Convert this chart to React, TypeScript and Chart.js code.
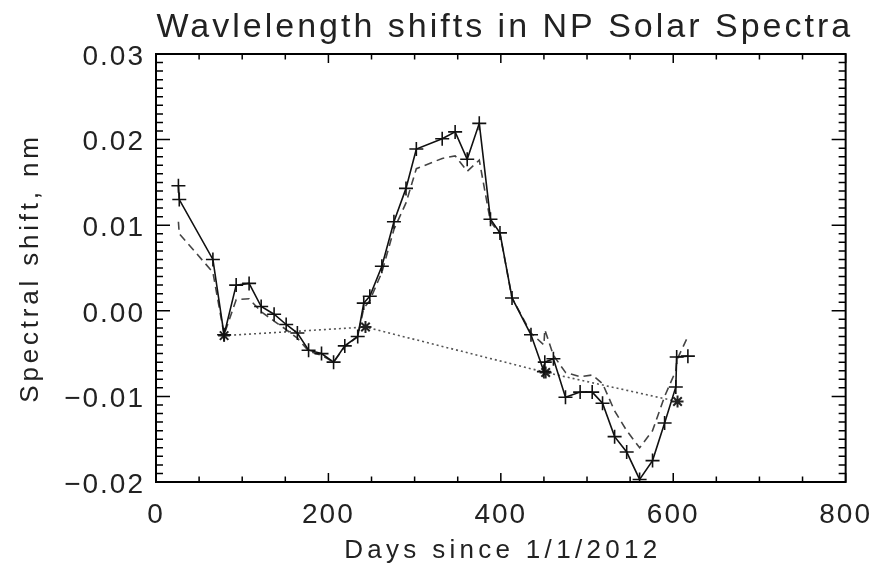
import React, { useEffect, useRef } from "react";
import { Chart, registerables } from "chart.js";

Chart.register(...registerables);

// Days since 1/1/2012
const days = [26, 27, 66, 79, 93, 108, 122, 137, 151, 164, 177, 192, 206, 219, 234, 241, 248, 262, 276, 290, 302, 332, 347, 361, 375, 388, 399, 413, 435, 450, 451, 461, 475, 492, 506, 518, 532, 546, 561, 576, 590, 603, 604, 617];
// Solid line with "+" markers (nm)
const solidShift = [0.0146, 0.0130, 0.0060, -0.0028, 0.0030, 0.0032, 0.0005, -0.0004, -0.0016, -0.0026, -0.0046, -0.0050, -0.0060, -0.0041, -0.0030, 0.0009, 0.0017, 0.0052, 0.0104, 0.0143, 0.0189, 0.0201, 0.0209, 0.0177, 0.0219, 0.0107, 0.0091, 0.0015, -0.0028, -0.0071, -0.0060, -0.0056, -0.0101, -0.0095, -0.0095, -0.0108, -0.0147, -0.0165, -0.0197, -0.0175, -0.0131, -0.0089, -0.0054, -0.0053];
// Dashed line (nm)
const dashedShift = [0.0104, 0.0090, 0.0045, -0.0028, 0.0013, 0.0014, -0.0001, -0.0012, -0.0022, -0.0032, -0.0047, -0.0052, -0.0060, -0.0042, -0.0030, 0.0003, 0.0012, 0.0045, 0.0095, 0.0126, 0.0166, 0.0178, 0.0181, 0.0163, 0.0176, 0.0104, 0.0090, 0.0015, -0.0026, -0.0040, -0.0022, -0.0052, -0.0072, -0.0077, -0.0075, -0.0085, -0.0117, -0.0140, -0.0160, -0.0140, -0.0100, -0.0070, -0.0058, -0.0030];
// Dotted line with "*" markers
const starDays = [79, 243, 452, 605];
const starShift = [-0.0029, -0.0019, -0.0072, -0.0106];

const xMin = 0;
const xMax = 800;
const xStep = 200;
const yMin = -0.02;
const yMax = 0.03;
const yStep = 0.01;

const titleText = "Wavlelength shifts in NP Solar Spectra";
const xTitle = "Days since 1/1/2012";
const yTitle = "Spectral shift, nm";

const FONT = '"Liberation Sans", Arial, Helvetica, sans-serif';
const TEXT = "#222";

const idlPlugin = {
  id: "idlFrame",
  beforeDraw(chart: any) {
    chart.ctx.letterSpacing = "2px";
  },
  afterDraw(chart: any) {
    const { ctx, chartArea: a, scales } = chart;
    const x = scales.x;
    const y = scales.y;
    ctx.save();
    ctx.strokeStyle = "#000";
    ctx.lineWidth = 1.5;
    ctx.beginPath();
    for (let d = xMin; d <= xMax; d += 50) {
      const px = x.getPixelForValue(d);
      const len = d % xStep === 0 ? 9 : 5.5;
      ctx.moveTo(px, a.bottom);
      ctx.lineTo(px, a.bottom - len);
      ctx.moveTo(px, a.top);
      ctx.lineTo(px, a.top + len);
    }
    for (let k = -20; k <= 30; k++) {
      const py = y.getPixelForValue(k / 1000);
      const len = k % 10 === 0 ? 14 : 7;
      ctx.moveTo(a.left, py);
      ctx.lineTo(a.left + len, py);
      ctx.moveTo(a.right, py);
      ctx.lineTo(a.right - len, py);
    }
    ctx.stroke();
    ctx.lineWidth = 2;
    ctx.strokeRect(a.left, a.top, a.right - a.left, a.bottom - a.top);

    ctx.fillStyle = TEXT;
    ctx.textAlign = "center";
    ctx.textBaseline = "alphabetic";
    ctx.font = `34px ${FONT}`;
    ctx.letterSpacing = "3px";
    ctx.fillText(titleText, (a.left + a.right) / 2 + 4, 37);

    ctx.font = `26px ${FONT}`;
    ctx.letterSpacing = "4.3px";
    ctx.fillText(xTitle, (a.left + a.right) / 2 + 2, 558);

    ctx.letterSpacing = "3.8px";
    ctx.translate(38, (a.top + a.bottom) / 2);
    ctx.rotate(-Math.PI / 2);
    ctx.fillText(yTitle, 0, 0);
    ctx.restore();
  },
};

export default function App() {
  const ref = useRef<HTMLCanvasElement | null>(null);

  useEffect(() => {
    if (!ref.current) return;
    const solid = days.map((d, i) => ({ x: d, y: solidShift[i] }));
    const dashed = days.map((d, i) => ({ x: d, y: dashedShift[i] }));
    const stars = starDays.map((d, i) => ({ x: d, y: starShift[i] }));

    const chart = new Chart(ref.current, {
      type: "scatter",
      data: {
        datasets: [
          {
            data: solid,
            showLine: true,
            borderColor: "#111",
            borderWidth: 1.6,
            pointStyle: "cross",
            pointRadius: 7,
            pointBorderWidth: 1.6,
            pointBorderColor: "#111",
            pointBackgroundColor: "#111",
            tension: 0,
          },
          {
            data: dashed,
            showLine: true,
            borderColor: "#444",
            borderWidth: 1.6,
            borderDash: [8, 5],
            pointRadius: 0,
            tension: 0,
          },
          {
            data: stars,
            showLine: true,
            borderColor: "#555",
            borderWidth: 1.6,
            borderDash: [2, 3],
            pointStyle: "star",
            pointRadius: 6,
            pointBorderWidth: 2,
            pointBorderColor: "#222",
            pointBackgroundColor: "#222",
            tension: 0,
          },
        ],
      },
      options: {
        responsive: false,
        animation: false,
        events: [],
        layout: { padding: { top: 54, right: 30, left: 0, bottom: 0 } },
        plugins: {
          legend: { display: false },
          tooltip: { enabled: false },
          title: { display: false },
        },
        scales: {
          x: {
            type: "linear",
            min: xMin,
            max: xMax,
            grid: { display: false, drawTicks: false, tickLength: 0 },
            border: { display: false },
            ticks: {
              stepSize: xStep,
              padding: 16,
              color: TEXT,
              font: { family: FONT, size: 28 },
              maxRotation: 0,
              callback: (v: any) => String(v),
            },
            afterFit: (s: any) => {
              s.height = 85;
            },
          },
          y: {
            type: "linear",
            min: yMin,
            max: yMax,
            grid: { display: false, drawTicks: false, tickLength: 0 },
            border: { display: false },
            ticks: {
              stepSize: yStep,
              padding: 11,
              labelOffset: 3,
              color: TEXT,
              font: { family: FONT, size: 28 },
              callback: (v: any) => {
                const n = Number(v);
                const s = Math.abs(n) < 1e-9 ? "0.00" : n.toFixed(2);
                return s.replace("-", "\u2212");
              },
            },
            afterFit: (s: any) => {
              s.width = 156;
            },
          },
        },
      },
      plugins: [idlPlugin],
    });
    return () => chart.destroy();
  }, []);

  return (
    <div style={{ position: "absolute", left: 0, top: 0, width: 885, height: 567, background: "#fff" }}>
      <canvas ref={ref} width={885} height={567} style={{ display: "block", width: 885, height: 567 }} />
    </div>
  );
}
